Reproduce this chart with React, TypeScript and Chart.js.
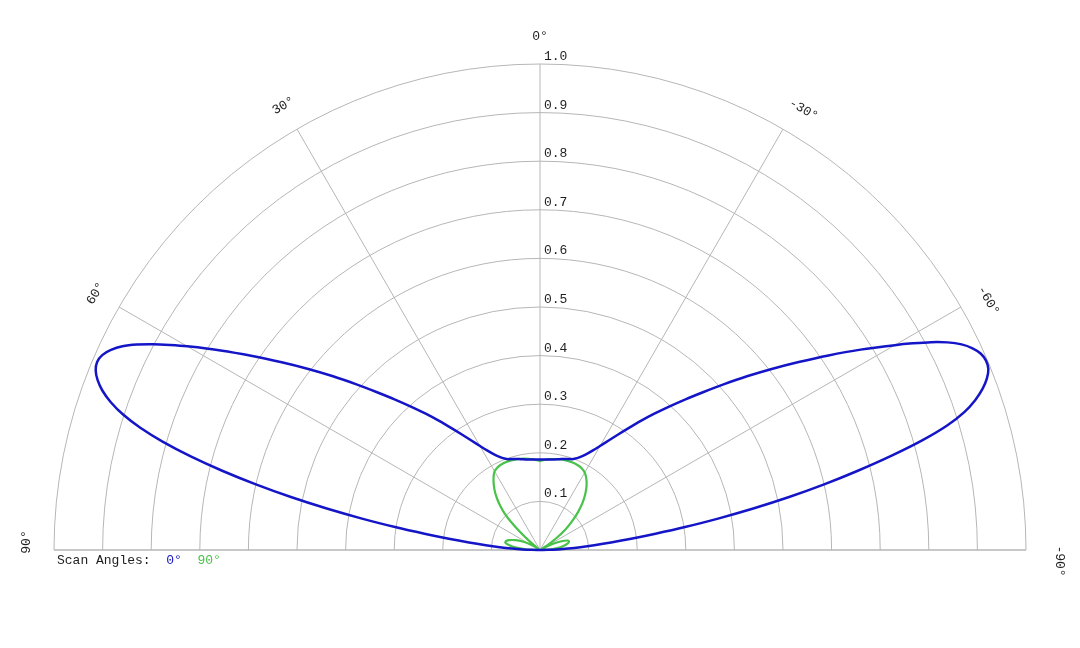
import { useEffect, useRef } from "react";
import { Chart, registerables } from "chart.js";

Chart.register(...registerables);

// ---- data ----
const ringValues = [0.1, 0.2, 0.3, 0.4, 0.5, 0.6, 0.7, 0.8, 0.9, 1.0];
const ringLabels = ["0.1", "0.2", "0.3", "0.4", "0.5", "0.6", "0.7", "0.8", "0.9", "1.0"];
const spokeAngles = [-60, -30, 0, 30, 60];
const angleTickValues = [90, 60, 30, 0, -30, -60, -90];
const angleTickLabels = ["90°", "60°", "30°", "0°", "-30°", "-60°", "-90°"];

const legendTitle = "Scan Angles:";
const seriesNames = ["0°", "90°"];

// scan angle 0° (blue) : pattern angle (deg, positive = left) and normalized radius
const blueAngles = [
  -90, -89, -88, -87, -86, -85, -84, -83, -82, -81, -80, -79, -78, -77, -76, -75, -74, -73, -72, -71,
  -70, -69, -68, -67, -66, -65, -64, -63, -62, -61, -60, -58, -56, -54, -52, -50, -48, -46, -44, -42,
  -40, -38, -36, -34, -32, -30, -28, -26, -24, -22, -20, -16, -12, -8, -4, 0, 4, 8, 12, 16,
  20, 22, 24, 26, 28, 30, 32, 34, 36, 38, 40, 42, 44, 46, 48, 50, 52, 54, 56, 58,
  60, 61, 62, 63, 64, 65, 66, 67, 68, 69, 70, 71, 72, 73, 74, 75, 76, 77, 78, 79,
  80, 81, 82, 83, 84, 85, 86, 87, 88, 89, 90,
];
const blueRadius = [
  0, 0.017, 0.036, 0.058, 0.083, 0.112, 0.147, 0.189, 0.24, 0.302, 0.372, 0.447, 0.524, 0.6, 0.674, 0.748, 0.818, 0.876, 0.918, 0.947,
  0.969, 0.985, 0.995, 0.997, 0.993, 0.982, 0.965, 0.941, 0.911, 0.877, 0.843, 0.778, 0.716, 0.658, 0.605, 0.556, 0.51, 0.468, 0.431, 0.397,
  0.366, 0.337, 0.31, 0.286, 0.265, 0.247, 0.232, 0.22, 0.211, 0.204, 0.199, 0.195, 0.191, 0.188, 0.1865, 0.186, 0.1865, 0.188, 0.191, 0.195,
  0.199, 0.204, 0.211, 0.22, 0.232, 0.247, 0.265, 0.286, 0.31, 0.337, 0.366, 0.397, 0.431, 0.468, 0.51, 0.556, 0.605, 0.657, 0.714, 0.775,
  0.838, 0.87, 0.902, 0.931, 0.956, 0.974, 0.986, 0.99, 0.986, 0.975, 0.958, 0.934, 0.902, 0.86, 0.807, 0.744, 0.674, 0.6, 0.524, 0.447,
  0.372, 0.302, 0.24, 0.189, 0.147, 0.112, 0.083, 0.058, 0.036, 0.017, 0,
];

// scan angle 90° (green)
const greenAngles = [
  -90, -87, -84, -80, -77, -74, -71, -68, -65, -62, -60, -58, -56, -54, -51, -48, -45, -42, -39, -36,
  -33, -30, -27, -24, -20, -15, -10, -6, -3, 0, 3, 6, 10, 15, 20, 25, 28, 30, 32, 34,
  36, 38, 40, 42, 44, 46, 48, 50, 52, 54, 57, 60, 64, 68, 72, 75, 78, 81, 84, 87, 90,
];
const greenRadius = [
  0, 0.02, 0.036, 0.05, 0.058, 0.062, 0.06, 0.048, 0.03, 0.012, 0.004, 0.008, 0.022, 0.042, 0.068, 0.09, 0.111, 0.131, 0.148, 0.163,
  0.175, 0.184, 0.189, 0.191, 0.192, 0.192, 0.19, 0.188, 0.186, 0.183, 0.186, 0.188, 0.191, 0.193, 0.194, 0.193, 0.19, 0.187, 0.18, 0.171,
  0.161, 0.15, 0.137, 0.122, 0.105, 0.082, 0.055, 0.03, 0.01, 0.004, 0.012, 0.024, 0.04, 0.054, 0.066, 0.072, 0.073, 0.065, 0.052, 0.03, 0,
];

// ---- styles ----
const seriesColors = ["#1515c8", "#48c248"];
const gridColor = "#b6b6b6";
const textColor = "#1e1e1e";
const monoFont = '13px "Courier New", "Liberation Mono", monospace';

const deg = Math.PI / 180;

function toXY(angles: number[], radii: number[]) {
  return angles.map((a, i) => ({
    x: -radii[i] * Math.sin(a * deg),
    y: radii[i] * Math.cos(a * deg),
  }));
}

function labelNudge(a: number) {
  if (a < 0) return Math.abs(a) === 90 ? 11 : 8;
  return a === 90 ? 8 : 0;
}

export default function App() {
  const ref = useRef<HTMLCanvasElement>(null);

  useEffect(() => {
    const canvas = ref.current;
    if (!canvas) return;

    const polarGrid = {
      id: "polarGrid",
      beforeDatasetsDraw(chart: any) {
        const { ctx, scales } = chart;
        const sx = scales.x;
        const sy = scales.y;
        const cx = sx.getPixelForValue(0);
        const cy = sy.getPixelForValue(0);
        const unit = sx.getPixelForValue(1) - cx;
        ctx.save();
        ctx.strokeStyle = gridColor;
        ctx.lineWidth = 1;
        ringValues.forEach((v) => {
          ctx.beginPath();
          ctx.arc(cx, cy, v * unit, Math.PI, 2 * Math.PI);
          ctx.stroke();
        });
        spokeAngles.forEach((a) => {
          ctx.beginPath();
          ctx.moveTo(cx, cy);
          ctx.lineTo(cx - unit * Math.sin(a * deg), cy - unit * Math.cos(a * deg));
          ctx.stroke();
        });
        ctx.lineWidth = 1.5;
        ctx.beginPath();
        ctx.moveTo(cx - unit, cy);
        ctx.lineTo(cx + unit, cy);
        ctx.stroke();
        ctx.restore();
      },
      afterDraw(chart: any) {
        const { ctx, scales } = chart;
        const sx = scales.x;
        const sy = scales.y;
        const cx = sx.getPixelForValue(0);
        const cy = sy.getPixelForValue(0);
        const unit = sx.getPixelForValue(1) - cx;
        ctx.save();
        ctx.font = monoFont;
        ctx.fillStyle = textColor;

        // radial tick labels
        ctx.textAlign = "left";
        ctx.textBaseline = "alphabetic";
        ringValues.forEach((v, i) => {
          ctx.fillText(ringLabels[i], cx + 4, cy - v * unit - 4);
        });

        // angular labels
        ctx.textAlign = "center";
        ctx.textBaseline = "middle";
        angleTickValues.forEach((a, i) => {
          const rad = unit + 27 + (a === -90 ? 6 : 0);
          const px = cx - rad * Math.sin(a * deg);
          const py = cy - rad * Math.cos(a * deg);
          ctx.save();
          ctx.translate(px, py);
          ctx.rotate(-a * deg);
          ctx.fillText(angleTickLabels[i], labelNudge(a), 0);
          ctx.restore();
        });

        // legend
        ctx.textAlign = "left";
        ctx.textBaseline = "alphabetic";
        let lx = cx - unit + 3;
        const ly = cy + 14;
        ctx.fillStyle = textColor;
        const title = legendTitle + "  ";
        ctx.fillText(title, lx, ly);
        lx += ctx.measureText(title).width;
        seriesNames.forEach((name, i) => {
          ctx.fillStyle = seriesColors[i];
          ctx.fillText(name, lx, ly);
          lx += ctx.measureText(name + "  ").width;
        });
        ctx.restore();
      },
    };

    const chart = new Chart(canvas, {
      type: "scatter",
      data: {
        datasets: [
          {
            label: seriesNames[0],
            data: toXY(blueAngles, blueRadius),
            showLine: true,
            borderColor: seriesColors[0],
            borderWidth: 2.5,
            pointRadius: 0,
            tension: 0.3,
            clip: false as any,
          },
          {
            label: seriesNames[1],
            data: toXY(greenAngles, greenRadius),
            showLine: true,
            borderColor: seriesColors[1],
            borderWidth: 2.2,
            pointRadius: 0,
            tension: 0.3,
            clip: false as any,
          },
        ],
      },
      options: {
        responsive: false,
        animation: false,
        devicePixelRatio: 1,
        layout: { padding: { left: 54, right: 54, top: 64, bottom: 98 } },
        scales: {
          x: { type: "linear", min: -1, max: 1, display: false },
          y: { type: "linear", min: 0, max: 1, display: false },
        },
        plugins: {
          legend: { display: false },
          tooltip: { enabled: false },
          title: { display: false },
        },
      },
      plugins: [polarGrid],
    });

    return () => chart.destroy();
  }, []);

  return (
    <div style={{ position: "absolute", left: 0, top: 0, width: 1080, height: 648, background: "#fff" }}>
      <canvas ref={ref} width={1080} height={648} style={{ display: "block" }} />
    </div>
  );
}
